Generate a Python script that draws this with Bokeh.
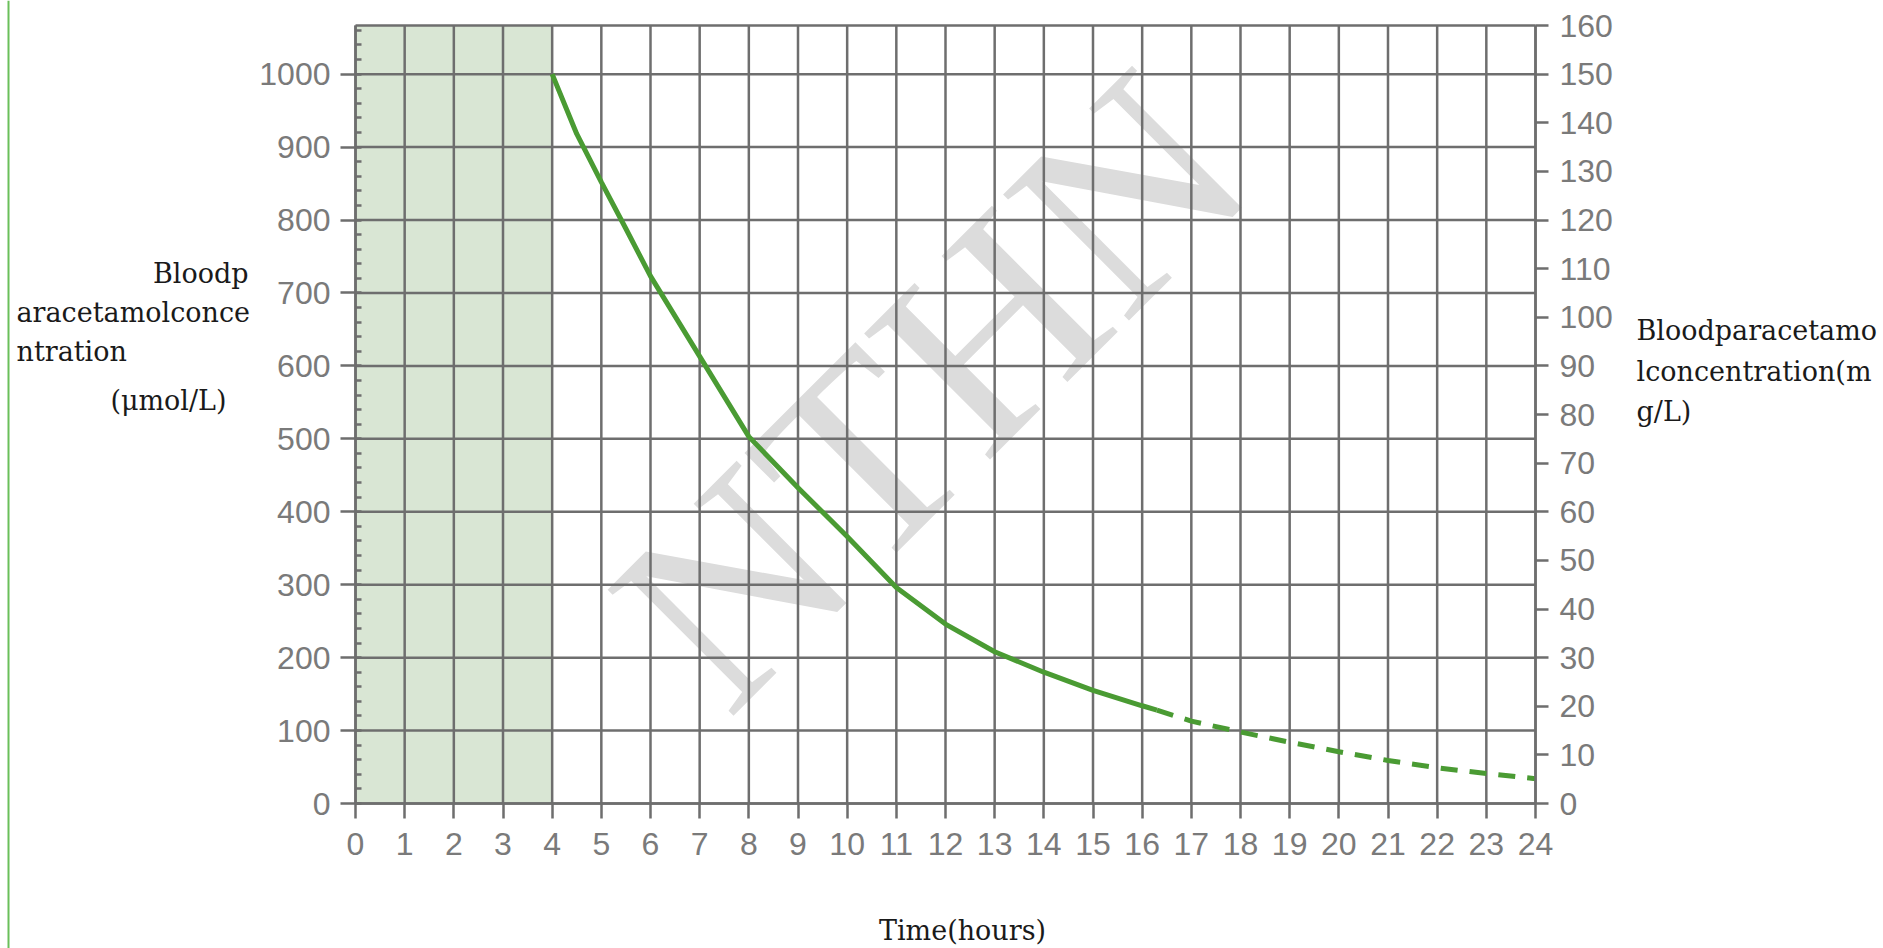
from bokeh.plotting import figure
from bokeh.models import Range1d, LinearAxis, FixedTicker, Label, BoxAnnotation
from bokeh.core.properties import value
from bokeh.embed import file_html
from bokeh.resources import INLINE

# ---------------- data ----------------
hours_solid = [4, 4.5, 5, 5.5, 6, 7, 8, 9, 10, 11, 12, 13, 14, 15, 16, 16.3]
conc_solid = [1000, 918, 852, 788, 723, 613, 503, 433, 366, 296, 246, 208, 180, 155, 134, 128]
hours_dashed = [16.3, 17, 18, 19, 20, 21, 22, 23, 24]
conc_dashed = [128, 113, 98, 84, 71, 59, 49, 41, 34]

x_ticks = list(range(0, 25))
left_ticks = list(range(0, 1001, 100))
left_minor_ticks = list(range(0, 1061, 20))
right_ticks = list(range(0, 161, 10))
x_max = 24
right_max = 160
left_max = right_max * 1000 / 150   # 150 mg/L == 1000 umol/L
shade_start, shade_end = 0, 4

left_title_lines = ["Bloodp", "aracetamolconce", "ntration", "(\u03bcmol/L)"]
right_title_lines = ["Bloodparacetamo", "lconcentration(m", "g/L)"]
x_title = "Time(hours)"
watermark = "NTHN"

# ---------------- style / layout ----------------
OFF = 0                      # canvas offset on the page
W, H = 1883, 948
FL, FR, FT, FB = 355 - OFF, 1535 - OFF, 25 - OFF, 803 - OFF   # plot-area edges, canvas px
GRID = "#6e6e6e"
TICKLBL = "#7a7a7a"
GREEN = "#4a9b33"
SHADE = "#d9e6d4"
SERIF = "DejaVu Serif"
SANS = "Liberation Sans"
LW = 2.5

kx = x_max / (FR - FL)
ky = left_max / (FB - FT)
p = figure(width=W, height=H,
           x_range=Range1d(-FL * kx, (W - FL) * kx),
           y_range=Range1d((FB - H) * ky, FB * ky),
           output_backend="svg", toolbar_location=None, min_border=0,
           background_fill_color="white", border_fill_color="white")
p.outline_line_color = None
p.extra_y_ranges = {"mg": Range1d((FB - H) * ky * 0.15, FB * ky * 0.15)}

def cx(px):  # page x -> data x
    return (px - OFF - FL) * kx

def cy(py):  # page y -> data y
    return (FB - (py - OFF)) * ky

# shaded band
p.quad(left=[shade_start], right=[shade_end], bottom=[0], top=[left_max],
       fill_color=SHADE, line_alpha=0, level="image")

# watermark
p.text(x=[cx(930)], y=[cy(389)], text=[watermark], angle=0.785,
       text_font=value("Liberation Serif"), text_font_size="272px",
       text_color="#dcdcdc", text_align="center", text_baseline="middle", level="image")

# grid (drawn from the tick lists, through the data scales)
p.grid.visible = False
p.segment(x0=x_ticks, y0=[0] * len(x_ticks), x1=x_ticks, y1=[left_max] * len(x_ticks),
          line_color=GRID, line_width=LW, level="underlay")
h_lines = left_ticks + [left_max]
p.segment(x0=[0] * len(h_lines), y0=h_lines, x1=[x_max] * len(h_lines), y1=h_lines,
          line_color=GRID, line_width=LW, level="underlay")

# axes
xa = p.xaxis[0]
xa.ticker = FixedTicker(ticks=x_ticks)
xa.fixed_location = 0
xa.bounds = (0, x_max)
ya = p.yaxis[0]
ya.ticker = FixedTicker(ticks=left_ticks, minor_ticks=left_minor_ticks)
ya.fixed_location = 0
ya.bounds = (0, left_max)

ra = LinearAxis(y_range_name="mg", ticker=FixedTicker(ticks=right_ticks))
ra.fixed_location = x_max
ra.bounds = (0, right_max)
p.add_layout(ra, "right")

for ax in (xa, ya, ra):
    ax.axis_line_color = GRID
    ax.axis_line_width = LW
    ax.major_tick_line_color = GRID
    ax.major_tick_line_width = LW
    ax.major_tick_in = 0
    ax.major_label_text_font = SANS
    ax.major_label_text_font_size = "32px"
    ax.major_label_text_color = TICKLBL
    ax.axis_label = None

xa.major_tick_out = 15
xa.major_label_standoff = 14
xa.minor_tick_line_color = None

ya.major_tick_out = 15
ya.major_label_standoff = 10
ya.minor_tick_line_color = GRID
ya.minor_tick_line_width = LW
ya.minor_tick_in = 6
ya.minor_tick_out = 0

ra.major_tick_out = 13
ra.major_label_standoff = 11
ra.minor_tick_line_color = None

# curve
p.line(hours_solid, conc_solid, line_color=GREEN, line_width=5)
p.line(hours_dashed, conc_dashed, line_color=GREEN, line_width=5, line_dash="17 12")

# titles
def add_label(text, px, py, align):
    p.add_layout(Label(x=cx(px), y=cy(py), text=text, text_font=SERIF,
                       text_font_size="27px", text_color="#1a1a1a",
                       text_align=align, text_baseline="alphabetic"))

add_label(left_title_lines[0], 248, 273, "right")
add_label(left_title_lines[1], 16, 312, "left")
add_label(left_title_lines[2], 16, 351, "left")
add_label(left_title_lines[3], 168, 400, "center")

add_label(right_title_lines[0], 1636, 330, "left")
add_label(right_title_lines[1], 1636, 371, "left")
add_label(right_title_lines[2], 1636, 411, "left")

add_label(x_title, 962, 930, "center")

# page-side green rule
p.add_layout(BoxAnnotation(left=cx(7), right=cx(9), fill_color="#6abf5a",
                           fill_alpha=1, line_alpha=0))

open("out.html", "w").write(file_html(p, INLINE))
